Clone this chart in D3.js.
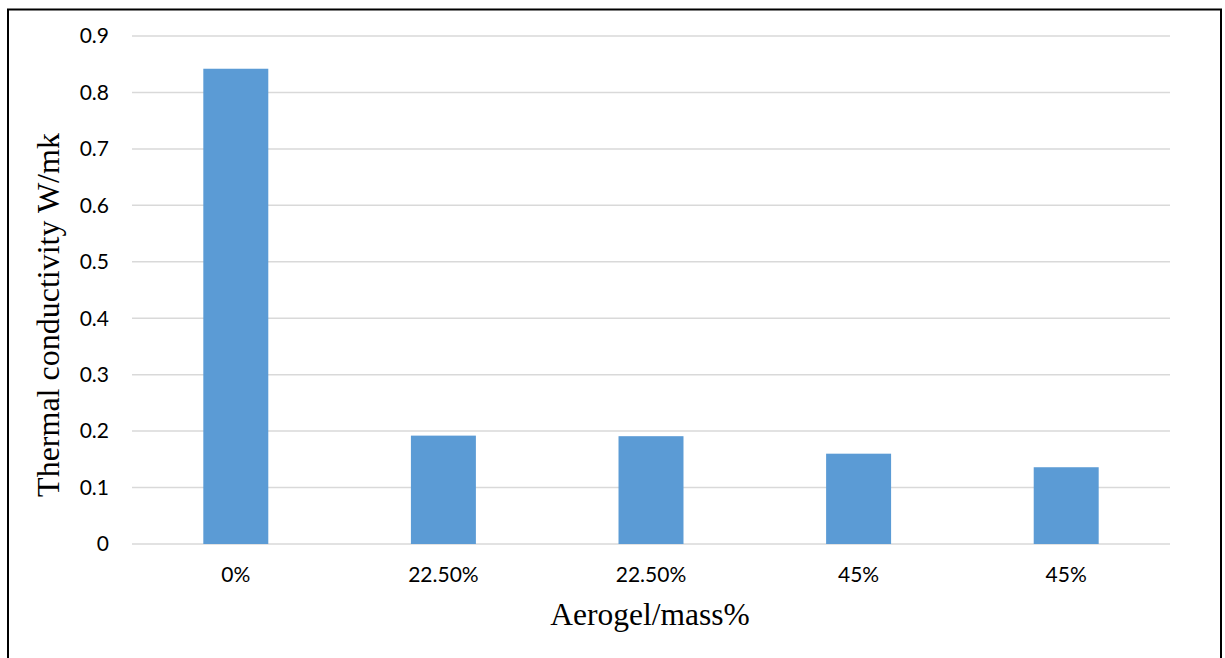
<!DOCTYPE html>
<html>
<head>
<meta charset="utf-8">
<script src="https://cdn.jsdelivr.net/npm/d3@7"></script>
<style>
  html, body { margin: 0; padding: 0; background: #fff; }
  svg { display: block; }
</style>
</head>
<body>
<script>
// Thermal conductivity by aerogel content
const categories = ["0%", "22.50%", "22.50%", "45%", "45%"];
const conductivity = [0.842, 0.192, 0.191, 0.160, 0.136];
const yTicks = [0, 0.1, 0.2, 0.3, 0.4, 0.5, 0.6, 0.7, 0.8, 0.9];

const W = 1225, H = 658;
const margin = { left: 132, right: 55, top: 36, bottom: 114 };

const svg = d3.select("body").append("svg")
  .attr("width", W).attr("height", H);

// outer frame
svg.append("rect")
  .attr("x", 8).attr("y", 9.5)
  .attr("width", 1213).attr("height", 700)
  .attr("fill", "none").attr("stroke", "#000").attr("stroke-width", 2);

const x = d3.scaleBand()
  .domain(d3.range(categories.length))
  .range([margin.left, W - margin.right]);

const y = d3.scaleLinear()
  .domain([0, 0.9])
  .range([H - margin.bottom, margin.top]);

// horizontal gridlines
svg.append("g")
  .selectAll("line")
  .data(yTicks)
  .join("line")
  .attr("x1", margin.left).attr("x2", W - margin.right)
  .attr("y1", d => y(d)).attr("y2", d => y(d))
  .attr("stroke", "#d9d9d9").attr("stroke-width", 1.5);

// y tick labels
svg.append("g")
  .selectAll("text")
  .data(yTicks)
  .join("text")
  .attr("x", 109)
  .attr("y", d => y(d))
  .attr("dy", "0.35em")
  .attr("text-anchor", "end")
  .attr("font-family", "Lato, 'Open Sans', sans-serif")
  .attr("font-size", 21)
  .attr("fill", "#000")
  .text(d => d === 0 ? "0" : d3.format(".1f")(d));

// bars
const barW = x.bandwidth() * 0.313;
svg.append("g")
  .selectAll("rect")
  .data(conductivity)
  .join("rect")
  .attr("x", (d, i) => x(i) + x.bandwidth() / 2 - barW / 2)
  .attr("width", barW)
  .attr("y", d => y(d))
  .attr("height", d => y(0) - y(d))
  .attr("fill", "#5b9bd5");

// category labels
svg.append("g")
  .selectAll("text")
  .data(categories)
  .join("text")
  .attr("x", (d, i) => x(i) + x.bandwidth() / 2)
  .attr("y", 582)
  .attr("text-anchor", "middle")
  .attr("font-family", "Lato, 'Open Sans', sans-serif")
  .attr("font-size", 21)
  .attr("fill", "#000")
  .text(d => d);

// axis titles
svg.append("text")
  .attr("x", 650).attr("y", 625)
  .attr("text-anchor", "middle")
  .attr("font-family", "'Liberation Serif', 'Times New Roman', serif")
  .attr("font-size", 31.5)
  .attr("fill", "#000")
  .text("Aerogel/mass%");

svg.append("text")
  .attr("transform", "translate(59,315) rotate(-90)")
  .attr("text-anchor", "middle")
  .attr("font-family", "'Liberation Serif', 'Times New Roman', serif")
  .attr("font-size", 32)
  .attr("fill", "#000")
  .text("Thermal conductivity W/mk");
</script>
</body>
</html>
